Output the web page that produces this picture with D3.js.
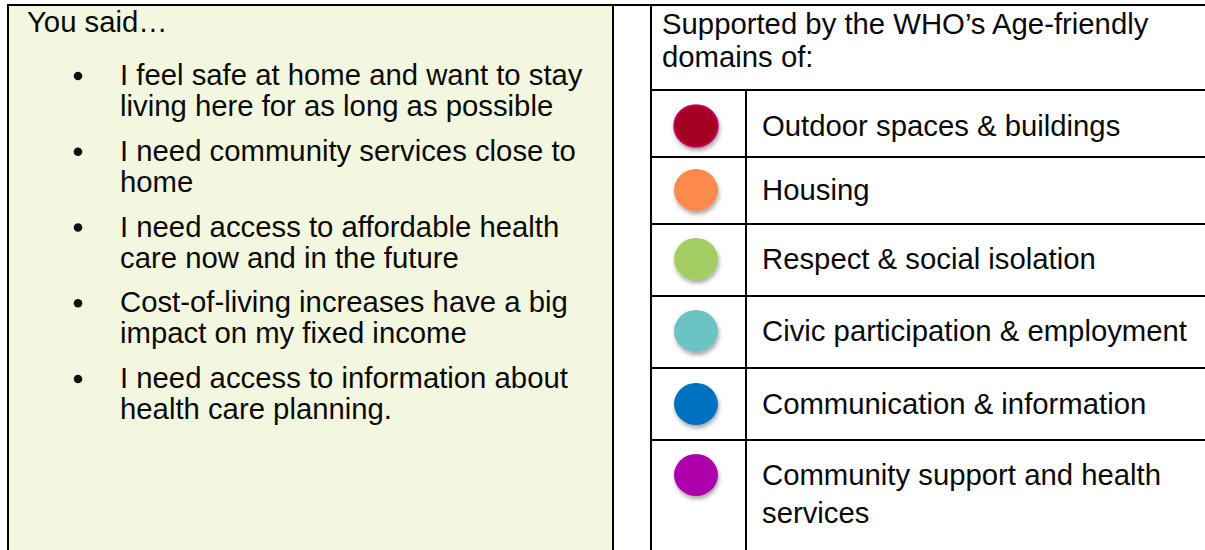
<!DOCTYPE html>
<html>
<head>
<meta charset="utf-8">
<script src="https://cdn.jsdelivr.net/npm/d3@7"></script>
<style>
  html, body { margin: 0; padding: 0; background: #ffffff; }
  svg { display: block; }
  text { font-family: "Liberation Sans", Arial, sans-serif; fill: #0a0a0a; }
</style>
</head>
<body>
<svg id="chart" width="1205" height="550"></svg>
<script>
// ---- data ----
const leftTitle = "You said\u2026";
const saidItems = [
  ["I feel safe at home and want to stay", "living here for as long as possible"],
  ["I need community services close to", "home"],
  ["I need access to affordable health", "care now and in the future"],
  ["Cost-of-living increases have a big", "impact on my fixed income"],
  ["I need access to information about", "health care planning."]
];
const rightTitle = ["Supported by the WHO\u2019s Age-friendly", "domains of:"];
const domains = [
  ["Outdoor spaces & buildings"],
  ["Housing"],
  ["Respect & social isolation"],
  ["Civic participation & employment"],
  ["Communication & information"],
  ["Community support and health", "services"]
];
const domainColors = ["#a50021", "#fd8a4b", "#a3cd64", "#6cc3c4", "#0070c0", "#ae00aa"];
const domainStroke = ["#cc0070", "none", "none", "none", "none", "none"];

// ---- layout ----
const W = 1205, H = 550;
const FS = 29.3;
const LH = 32;
const svg = d3.select("#chart");

const defs = svg.append("defs");
const f = defs.append("filter").attr("id", "shadow")
  .attr("x", "-50%").attr("y", "-50%").attr("width", "200%").attr("height", "220%");
f.append("feDropShadow").attr("dx", 1).attr("dy", 3).attr("stdDeviation", 2)
  .attr("flood-color", "#000").attr("flood-opacity", 0.35);

// column boundaries
const colX = { left: 8, mid1: 613, mid2: 651, icon: 746, right: W };
const topY = 5;

// row boundaries of right table (header + domain rows)
const rowEdges = [topY, 90, 157, 224, 296, 368, 440, H];

// left cell background
svg.append("rect")
  .attr("x", colX.left).attr("y", topY)
  .attr("width", colX.mid1 - colX.left).attr("height", H - topY)
  .attr("fill", "#f3f7df");

// left title
svg.append("text")
  .attr("x", 27).attr("y", 32)
  .attr("font-size", FS)
  .text(leftTitle);

// bullets
const bulletY = d3.scaleLinear().domain([0, saidItems.length - 1]).range([85, 388]);
const items = svg.append("g").selectAll("g").data(saidItems).join("g")
  .attr("transform", (d, i) => `translate(0,${bulletY(i)})`);
items.append("circle")
  .attr("cx", 78).attr("cy", -9).attr("r", 4.3).attr("fill", "#111");
items.append("text")
  .attr("x", 120).attr("font-size", FS)
  .selectAll("tspan").data(d => d).join("tspan")
  .attr("x", 120).attr("dy", (d, i) => i === 0 ? 0 : (LH - 1))
  .text(d => d);

// right header text
svg.append("text")
  .attr("x", 662).attr("y", 34).attr("font-size", FS)
  .selectAll("tspan").data(rightTitle).join("tspan")
  .attr("x", 662).attr("dy", (d, i) => i === 0 ? 0 : LH + 1)
  .text(d => d);

// domain rows
const rows = svg.append("g").selectAll("g").data(domains).join("g");
const iconCY = [126, 190, 259, 331, 404, 475];
rows.append("ellipse")
  .attr("cx", 696)
  .attr("cy", (d, i) => iconCY[i])
  .attr("rx", 22).attr("ry", 21)
  .attr("fill", (d, i) => domainColors[i])
  .attr("stroke", (d, i) => domainStroke[i])
  .attr("stroke-width", 1.5)
  .attr("filter", "url(#shadow)");
rows.append("text")
  .attr("x", 762)
  .attr("y", (d, i) => iconCY[i] + 10)
  .attr("font-size", FS)
  .selectAll("tspan").data(d => d).join("tspan")
  .attr("x", 762).attr("dy", (d, i) => i === 0 ? 0 : 38)
  .text(d => d);

// grid lines
const lines = svg.append("g").attr("stroke", "#000").attr("stroke-width", 2);
lines.append("line").attr("x1", colX.left - 1).attr("x2", W).attr("y1", topY).attr("y2", topY);
[colX.left, colX.mid1, colX.mid2].forEach(x =>
  lines.append("line").attr("x1", x).attr("x2", x).attr("y1", topY).attr("y2", H));
lines.append("line").attr("x1", colX.icon).attr("x2", colX.icon).attr("y1", rowEdges[1]).attr("y2", H);
lines.selectAll("line.row").data(rowEdges.slice(1, 7)).join("line")
  .attr("class", "row")
  .attr("x1", colX.mid2).attr("x2", W)
  .attr("y1", d => d).attr("y2", d => d);
</script>
</body>
</html>
